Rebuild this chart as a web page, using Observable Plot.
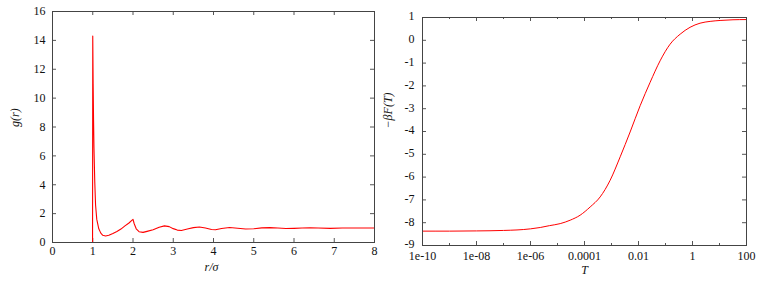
<!DOCTYPE html>
<html><head><meta charset="utf-8">
<script src="https://cdn.jsdelivr.net/npm/d3@7"></script>
<script src="https://cdn.jsdelivr.net/npm/@observablehq/plot@0.6"></script>
<style>
html,body{margin:0;padding:0;background:#fff;}
#wrap{position:relative;width:763px;height:283px;overflow:hidden;background:#fff;}
#left{position:absolute;left:0;top:0;}
#right{position:absolute;left:380px;top:0;}
#wrap svg, #wrap svg text, #wrap svg g {font-family: "Liberation Serif", "Times New Roman", serif !important;}
</style></head><body>
<div id="wrap"><div id="left"></div><div id="right"></div></div>
<script>
// Left panel: radial distribution function g(r)
const rValues = [0, 0.995, 1.0, 1.01, 1.02, 1.03, 1.05, 1.07, 1.1, 1.15, 1.2, 1.25, 1.32, 1.4, 1.5, 1.6, 1.7, 1.8, 1.9, 1.97, 2.0, 2.03, 2.08, 2.15, 2.25, 2.35, 2.5, 2.65, 2.78, 2.9, 3.0, 3.1, 3.2, 3.35, 3.5, 3.65, 3.8, 3.95, 4.05, 4.2, 4.4, 4.6, 4.8, 5.0, 5.2, 5.4, 5.6, 5.8, 6.0, 6.2, 6.4, 6.6, 6.9, 7.2, 7.5, 8.0];
const gValues = [0, 0, 14.3, 11, 8.5, 6.6, 4.2, 2.6, 1.6, 0.95, 0.65, 0.5, 0.45, 0.5, 0.62, 0.76, 0.93, 1.15, 1.35, 1.53, 1.6, 1.3, 0.95, 0.75, 0.7, 0.77, 0.88, 1.06, 1.15, 1.1, 0.96, 0.86, 0.83, 0.93, 1.03, 1.07, 1.0, 0.9, 0.88, 0.97, 1.04, 0.99, 0.93, 0.95, 1.01, 1.03, 1.0, 0.97, 0.98, 1.0, 1.02, 1.0, 0.98, 1.0, 1.0, 1.0];
const rTicks = [0, 1, 2, 3, 4, 5, 6, 7, 8];
const gTicks = [0, 2, 4, 6, 8, 10, 12, 14, 16];

// Right panel: -beta F(T)
const tValues = [1e-10, 1e-9, 1e-8, 1e-7, 1e-6, 2.3e-6, 5e-6, 1.26e-5, 2.95e-5, 6.9e-5, 1.62e-4, 3.8e-4, 8.9e-4, 2.1e-3, 4.9e-3, 1.15e-2, 2.7e-2, 6.3e-2, 0.148, 0.35, 0.81, 1.9, 4.5, 10.5, 31.6, 100];
const fValues = [-8.37, -8.37, -8.36, -8.34, -8.27, -8.21, -8.13, -8.04, -7.89, -7.67, -7.31, -6.87, -6.14, -5.11, -4.02, -2.87, -1.84, -0.9, -0.17, 0.27, 0.57, 0.75, 0.83, 0.87, 0.9, 0.91];
const tMajor = [1e-10, 1e-8, 1e-6, 1e-4, 1e-2, 1, 100];
const tMinor = [1e-9, 1e-7, 1e-5, 1e-3, 0.1, 10];
const tLabels = ["1e-10", "1e-08", "1e-06", "0.0001", "0.01", "1", "100"];
const fTicks = [-9, -8, -7, -6, -5, -4, -3, -2, -1, 0, 1];

const font = "'Liberation Serif', 'Times New Roman', serif";
const fs = 12;
const styleStr = "font-family: 'Liberation Serif', 'Times New Roman', serif; font-size: 12px; color: #111; background: white;";
const tickColor = "#555";
const frameColor = "#444";

// Left
{
  const W = 380, H = 283, mL = 52, mR = 6, mT = 11, mB = 41;
  const iW = W - mL - mR, iH = H - mT - mB;
  const data = rValues.map((r, i) => ({r, g: gValues[i]}));
  const chart = Plot.plot({
    width: W, height: H, marginLeft: mL, marginRight: mR, marginTop: mT, marginBottom: mB,
    style: styleStr,
    x: {domain: [0, 8]},
    y: {domain: [0, 16]},
    marks: [
      Plot.axisX({ticks: rTicks, tickSize: 0, tickPadding: 4, label: null, fontFamily: font, fontSize: fs, tickFormat: d => `${d}`}),
      Plot.axisY({ticks: gTicks, tickSize: 0, tickPadding: 7, label: null, fontFamily: font, fontSize: fs, tickFormat: d => `${d}`}),
      Plot.tickX(rTicks, {x: d => d, insetTop: iH - 4, stroke: tickColor}),
      Plot.tickX(rTicks, {x: d => d, insetBottom: iH - 4, stroke: tickColor}),
      Plot.tickY(gTicks, {y: d => d, insetRight: iW - 4, stroke: tickColor}),
      Plot.tickY(gTicks, {y: d => d, insetLeft: iW - 4, stroke: tickColor}),
      Plot.line(data, {x: "r", y: "g", stroke: "red", strokeWidth: 1.1}),
      Plot.frame({stroke: frameColor}),
      Plot.text(["g(r)"], {frameAnchor: "left", dx: -37, rotate: -90, fontStyle: "italic", fontFamily: font, fontSize: fs}),
      Plot.text(["r/σ"], {frameAnchor: "bottom", dx: -2, dy: 28, fontStyle: "italic", fontFamily: font, fontSize: fs})
    ]
  });
  document.getElementById("left").append(chart);
}

// Right
{
  const W = 383, H = 283, mL = 42, mR = 17, mT = 17, mB = 38;
  const iW = W - mL - mR, iH = H - mT - mB;
  const data = tValues.map((t, i) => ({t, f: fValues[i]}));
  const chart = Plot.plot({
    width: W, height: H, marginLeft: mL, marginRight: mR, marginTop: mT, marginBottom: mB,
    style: styleStr,
    x: {type: "log", domain: [1e-10, 100]},
    y: {domain: [-9, 1]},
    marks: [
      Plot.axisX({ticks: tMajor, tickSize: 0, tickPadding: 6, label: null, fontFamily: font, fontSize: fs, tickFormat: d => tLabels[tMajor.indexOf(d)]}),
      Plot.axisY({ticks: fTicks, tickSize: 0, tickPadding: 8, dy: -1, label: null, fontFamily: font, fontSize: fs, tickFormat: d => `${d}`}),
      Plot.tickX(tMajor, {x: d => d, insetTop: iH - 4, stroke: tickColor}),
      Plot.tickX(tMajor, {x: d => d, insetBottom: iH - 4, stroke: tickColor}),
      Plot.tickX(tMinor, {x: d => d, insetTop: iH - 2, stroke: tickColor}),
      Plot.tickX(tMinor, {x: d => d, insetBottom: iH - 2, stroke: tickColor}),
      Plot.tickY(fTicks, {y: d => d, insetRight: iW - 4, stroke: tickColor}),
      Plot.tickY(fTicks, {y: d => d, insetLeft: iW - 4, stroke: tickColor}),
      Plot.line(data, {x: "t", y: "f", stroke: "red", strokeWidth: 1, curve: "monotone-x"}),
      Plot.frame({stroke: frameColor}),
      Plot.text(["−βF(T)"], {frameAnchor: "left", dx: -34, dy: -3, rotate: -90, fontStyle: "italic", fontFamily: font, fontSize: fs}),
      Plot.text(["T"], {frameAnchor: "bottom", dy: 28, fontStyle: "italic", fontFamily: font, fontSize: fs})
    ]
  });
  document.getElementById("right").append(chart);
}
</script>
</body></html>
